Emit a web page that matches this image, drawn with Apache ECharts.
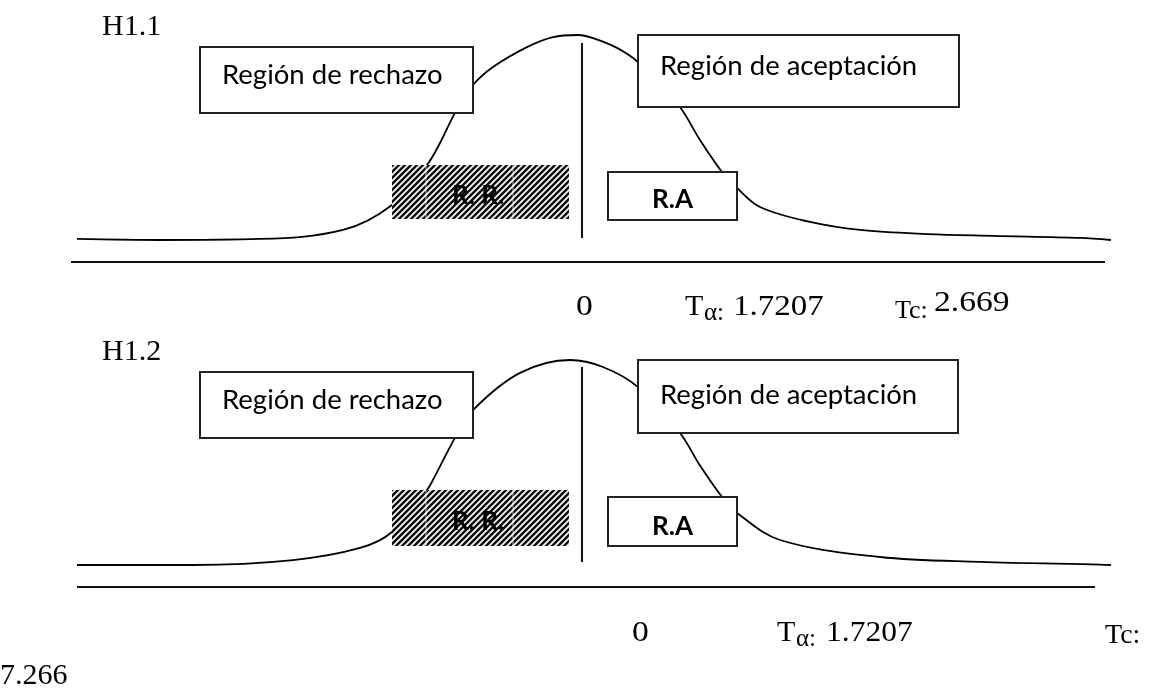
<!DOCTYPE html>
<html>
<head>
<meta charset="utf-8">
<script src="https://cdn.jsdelivr.net/npm/echarts@6/dist/echarts.min.js"></script>
<style>
html,body{margin:0;padding:0;background:#fff;}
#chart{width:1155px;height:689px;}
</style>
</head>
<body>
<div id="chart"></div>
<script>
// ---- Data ----
const panelNames = ['H1.1', 'H1.2'];
const regionLabels = ['Región de rechazo', 'Región de aceptación'];
const areaLabels = ['R. R.', 'R.A'];
// H1.1 curve: t position and relative density
const curveT1 = [-5.05, -4.22, -3.22, -2.39, -1.90, -1.55, -1.42, -1.27, -1.09, -0.89, -0.55, -0.29, -0.04, 0.11, 0.35, 0.56, 0.77, 0.98, 1.18, 1.40, 1.55, 1.78, 2.28, 2.78, 3.45, 4.11, 4.98, 5.29];
const curveD1 = [0.005, 0.0, 0.005, 0.049, 0.171, 0.366, 0.473, 0.620, 0.756, 0.844, 0.941, 0.990, 1.0, 0.985, 0.937, 0.868, 0.756, 0.649, 0.488, 0.332, 0.254, 0.161, 0.088, 0.049, 0.029, 0.020, 0.010, 0.0];
// H1.2 curve
const curveT2 = [-5.05, -3.89, -2.89, -2.22, -1.90, -1.55, -1.49, -1.27, -1.09, -0.62, -0.12, 0.21, 0.56, 0.98, 1.18, 1.40, 1.55, 1.98, 2.98, 3.98, 5.18, 5.29];
const curveD2 = [0.0, 0.0, 0.024, 0.083, 0.161, 0.366, 0.415, 0.620, 0.756, 0.937, 1.0, 0.966, 0.868, 0.644, 0.485, 0.332, 0.254, 0.122, 0.039, 0.015, 0.002, 0.0];
// axis value labels
const zeroLabel = '0';
const tAlphaLabels = ['1.7207', '1.7207'];
const tcLabels = ['2.669', '7.266'];

// ---- helpers ----
const SERIF = '"Liberation Serif", "Times New Roman", serif';
const SANS = 'Lato, "Noto Sans", sans-serif';
function txt(x, baseline, s, size, family, weight, k, sx) {
  return {
    type: 'text', z: 30, x: x, y: baseline - k * size, scaleX: sx || 1,
    style: { text: s, font: (weight || 'normal') + ' ' + size + 'px ' + family, fill: '#000', align: 'left', verticalAlign: 'middle' }
  };
}
const KS = 0.3375, KL = 0.387;
function serif(x, b, s, size, sx) { return txt(x, b, s, size || 30, SERIF, 'normal', KS, sx); }
function sans(x, b, s, size, w) { return txt(x, b, s, size || 27.5, SANS, w || 'normal', KL); }
function box(x, y, w, h) {
  return { type: 'rect', z: 20, shape: { x: x, y: y, width: w, height: h }, style: { fill: '#fff', stroke: '#222', lineWidth: 2 } };
}
function hline(x1, x2, y) {
  return { type: 'line', z: 20, shape: { x1: x1, y1: y, x2: x2, y2: y }, style: { stroke: '#111', lineWidth: 2 } };
}
function hatchCanvas() {
  const c = document.createElement('canvas');
  c.width = 6; c.height = 6;
  const g = c.getContext('2d');
  g.fillStyle = '#fff'; g.fillRect(0, 0, 6, 6);
  g.strokeStyle = '#111'; g.lineWidth = 2.6;
  g.beginPath();
  g.moveTo(-1, 7); g.lineTo(7, -1);
  g.moveTo(-4, 4); g.lineTo(4, -4);
  g.moveTo(2, 10); g.lineTo(10, 2);
  g.stroke();
  return c;
}
const hatch = hatchCanvas();
function hatchBox(x, y, w, h) {
  return [
    { type: 'rect', z: 20, shape: { x: x, y: y, width: w, height: h }, style: { fill: { image: hatch, repeat: 'repeat' }, stroke: null } },
    { type: 'line', z: 21, shape: { x1: x + 34, y1: y, x2: x + 34, y2: y + h }, style: { stroke: 'rgba(255,255,255,0.7)', lineWidth: 1 } },
    { type: 'line', z: 21, shape: { x1: x + 121, y1: y, x2: x + 121, y2: y + h }, style: { stroke: 'rgba(255,255,255,0.7)', lineWidth: 1 } }
  ];
}

const graphics = [
  // panel 1
  serif(102, 37, panelNames[0]),
  box(200, 47, 273, 66), sans(222, 86, regionLabels[0]),
  box(638, 35, 321, 72), sans(660, 77, regionLabels[1]),
  ...hatchBox(392, 165, 177, 54), sans(452, 206, areaLabels[0], 26, 'bold'),
  box(608, 172, 129, 48), sans(652, 210, areaLabels[1], 26, 'bold'),
  hline(71, 1105, 262),
  serif(576, 317, zeroLabel, 30, 1.12),
  serif(685, 317, 'T'), serif(704, 322, 'α:', 25), serif(733, 317, tAlphaLabels[0], 30, 1.1),
  serif(895, 320, 'Tc:', 26), serif(934, 313, tcLabels[0], 30, 1.12),
  // panel 2
  serif(102, 362, panelNames[1]),
  box(200, 372, 273, 66), sans(222, 411, regionLabels[0]),
  box(638, 360, 320, 73), sans(660, 406, regionLabels[1]),
  ...hatchBox(392, 490, 177, 56), sans(452, 532, areaLabels[0], 26, 'bold'),
  box(608, 497, 129, 49), sans(652, 537, areaLabels[1], 26, 'bold'),
  hline(77, 1095, 587),
  serif(632, 643, zeroLabel, 30, 1.12),
  serif(777, 643, 'T'), serif(796, 648, 'α:', 25), serif(826, 643, tAlphaLabels[1], 30, 1.05),
  serif(1105, 645, 'Tc:', 28),
  serif(0, 686, tcLabels[1])
];

function zip(a, b) { return a.map(function (v, i) { return [v, b[i]]; }); }

const chart = echarts.init(document.getElementById('chart'), null, { renderer: 'canvas' });
chart.setOption({
  animation: false,
  backgroundColor: '#fff',
  grid: [
    { left: 72, right: 43, top: 35, height: 205 },
    { left: 72, right: 43, top: 360, height: 205 }
  ],
  xAxis: [
    { type: 'value', gridIndex: 0, min: -5.1, max: 5.3, show: false },
    { type: 'value', gridIndex: 1, min: -5.1, max: 5.3, show: false }
  ],
  yAxis: [
    { type: 'value', gridIndex: 0, min: 0, max: 1, show: false },
    { type: 'value', gridIndex: 1, min: 0, max: 1, show: false }
  ],
  series: [
    {
      type: 'line', xAxisIndex: 0, yAxisIndex: 0, data: zip(curveT1, curveD1),
      smooth: 0.35, symbol: 'none', clip: false,
      lineStyle: { color: '#000', width: 1.8 },
      markLine: {
        silent: true, symbol: 'none', label: { show: false },
        lineStyle: { color: '#111', width: 2, type: 'solid' },
        data: [[{ coord: [0, 0.01] }, { coord: [0, 0.961] }]]
      }
    },
    {
      type: 'line', xAxisIndex: 1, yAxisIndex: 1, data: zip(curveT2, curveD2),
      smooth: 0.35, symbol: 'none', clip: false,
      lineStyle: { color: '#000', width: 1.8 },
      markLine: {
        silent: true, symbol: 'none', label: { show: false },
        lineStyle: { color: '#111', width: 2, type: 'solid' },
        data: [[{ coord: [0, 0.015] }, { coord: [0, 0.966] }]]
      }
    }
  ],
  graphic: { elements: graphics }
});
</script>
</body>
</html>
